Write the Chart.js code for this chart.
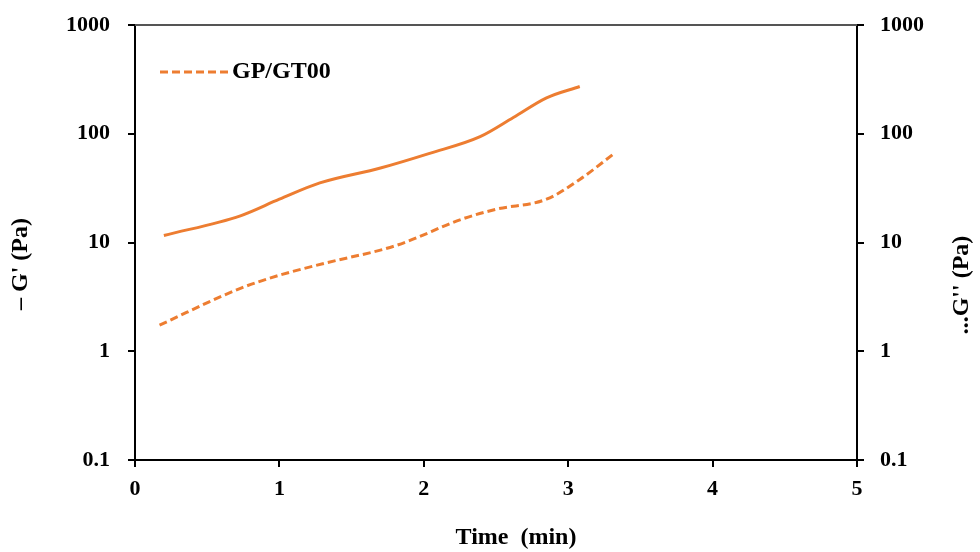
<!DOCTYPE html>
<html>
<head>
<meta charset="utf-8">
<script src="https://cdn.jsdelivr.net/npm/chart.js@4"></script>
<style>
  html, body { margin: 0; padding: 0; background: #fff; }
</style>
</head>
<body>
<canvas id="chart" width="980" height="552"></canvas>
<script>
// Data
var timeStorage = [0.2, 0.73, 1.0, 1.28, 1.7, 2.04, 2.39, 2.62, 2.85, 3.08];
var gStorage = [11.6, 17.6, 25, 35.3, 48.4, 66, 94, 141, 214, 272];
var timeLoss = [0.17, 0.73, 1.0, 1.3, 1.81, 2.27, 2.5, 2.85, 3.08, 3.31];
var gLoss = [1.74, 3.79, 5.0, 6.38, 9.4, 16.5, 20.2, 25, 38, 64.5];

var yTicks = [0.1, 1, 10, 100, 1000];
var yTickLabels = ['0.1', '1', '10', '100', '1000'];
var xTicks = [0, 1, 2, 3, 4, 5];

var orange = '#ED7D31';
var serif = '"Liberation Serif", "Times New Roman", serif';

// Axis titles, top frame line and the small legend inside the plot
var decorPlugin = {
    id: 'decor',
    afterDraw: function (chart) {
        var ctx = chart.ctx;
        var a = chart.chartArea;
        ctx.save();

        ctx.strokeStyle = '#555';
        ctx.lineWidth = 2;
        ctx.beginPath();
        ctx.moveTo(a.left, a.top);
        ctx.lineTo(a.right, a.top);
        ctx.stroke();

        ctx.fillStyle = '#000';
        ctx.font = 'bold 24px ' + serif;
        ctx.textAlign = 'center';
        ctx.textBaseline = 'middle';
        ctx.fillText('Time  (min)', 516, 538);

        ctx.save();
        ctx.translate(21, 264);
        ctx.rotate(-Math.PI / 2);
        ctx.fillText('\u2013 G\' (Pa)', 0, 0);
        ctx.restore();

        ctx.save();
        ctx.translate(962, 285);
        ctx.rotate(-Math.PI / 2);
        ctx.fillText('...G\'\' (Pa)', 0, 0);
        ctx.restore();

        // legend for the dashed series
        var ds = chart.data.datasets[1];
        ctx.strokeStyle = ds.borderColor;
        ctx.lineWidth = ds.borderWidth;
        ctx.setLineDash(ds.borderDash);
        ctx.beginPath();
        ctx.moveTo(a.left + 25, 72);
        ctx.lineTo(a.left + 93, 72);
        ctx.stroke();
        ctx.setLineDash([]);
        ctx.textAlign = 'left';
        ctx.fillText(ds.label, a.left + 97, 72);

        ctx.restore();
    }
};

var setTicks = function (values) {
    return function (scale) {
        scale.ticks = values.map(v => ({ value: v }));
    };
};

var yAxis = function (pos, width, pad) {
    return {
        type: 'logarithmic',
        position: pos,
        min: 0.1,
        max: 1000,
        afterBuildTicks: setTicks(yTicks),
        afterFit: function (scale) {
            scale.width = width;
            scale.paddingTop = 0;
            scale.paddingBottom = 0;
        },
        border: { display: true, color: '#000', width: 2 },
        grid: { display: true, drawOnChartArea: false, tickLength: 7, color: '#000', lineWidth: 2 },
        ticks: {
            padding: pad,
            color: '#000',
            font: { family: serif, size: 22, weight: 'bold' },
            callback: function (value) {
                var i = yTicks.indexOf(value);
                return i >= 0 ? yTickLabels[i] : '';
            }
        }
    };
};

new Chart(
    document.getElementById('chart'),
    {
        type: 'line',
        data: {
            datasets: [
                {
                    label: "G'",
                    yAxisID: 'y',
                    borderColor: orange,
                    borderWidth: 3,
                    pointRadius: 0,
                    cubicInterpolationMode: 'monotone',
                    data: timeStorage.map((t, i) => ({ x: t, y: gStorage[i] }))
                },
                {
                    label: 'GP/GT00',
                    yAxisID: 'y2',
                    borderColor: orange,
                    borderWidth: 3,
                    borderDash: [8, 4],
                    pointRadius: 0,
                    cubicInterpolationMode: 'monotone',
                    data: timeLoss.map((t, i) => ({ x: t, y: gLoss[i] }))
                }
            ]
        },
        options: {
            responsive: false,
            animation: false,
            devicePixelRatio: 1,
            layout: { padding: { top: 25, left: 0, right: 0, bottom: 0 } },
            plugins: {
                legend: { display: false },
                tooltip: { enabled: false }
            },
            scales: {
                x: {
                    type: 'linear',
                    min: 0,
                    max: 5,
                    afterBuildTicks: setTicks(xTicks),
                    afterFit: function (scale) { scale.height = 92; },
                    border: { display: true, color: '#000', width: 2 },
                    grid: { display: true, drawOnChartArea: false, tickLength: 7, color: '#000', lineWidth: 2 },
                    ticks: {
                        padding: 9,
                        color: '#000',
                        font: { family: serif, size: 22, weight: 'bold' }
                    }
                },
                y: yAxis('left', 135, 18),
                y2: yAxis('right', 123, 16)
            }
        },
        plugins: [decorPlugin]
    }
);
</script>
</body>
</html>
